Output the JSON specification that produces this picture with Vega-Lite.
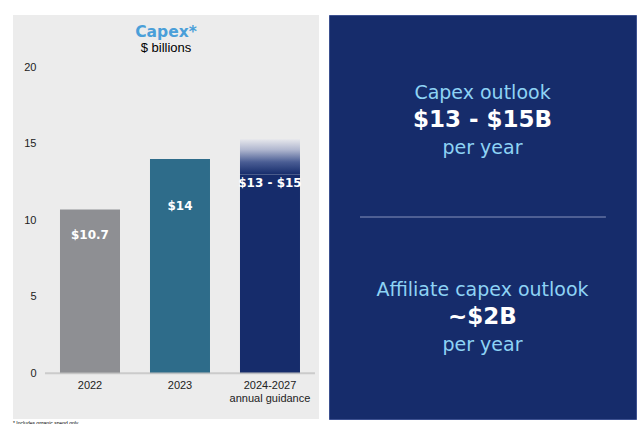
{
  "$schema": "https://vega.github.io/schema/vega-lite/v6.json",
  "background": "white",
  "padding": {"left": 13, "top": 14, "right": 0, "bottom": 0},
  "spacing": 9,
  "title": {"text": "* Includes organic spend only", "orient": "bottom", "anchor": "start", "frame": "group", "fontSize": 5, "font": "Liberation Sans", "fontWeight": "normal", "color": "#000000", "offset": 1},
  "config": {"view": {"stroke": null}},
  "hconcat": [
    {
      "width": 306,
      "height": 404,
      "view": {"fill": "#ececec", "stroke": null},
      "title": {"text": "Capex*", "subtitle": "$ billions", "anchor": "middle", "frame": "group", "offset": -40, "font": "DejaVu Sans", "fontSize": 15.5, "fontWeight": "bold", "color": "#4a9fd9", "subtitleFont": "Liberation Sans", "subtitleFontSize": 13, "subtitleColor": "#000000", "subtitlePadding": 2},
      "data": {"values": [
        {"period": "2022", "value": 10.7, "label": "$10.7"},
        {"period": "2023", "value": 14, "label": "$14"},
        {"period": "2024-2027", "value": 13, "high": 15.3, "label": "$13 - $15"}
      ]},
      "encoding": {
        "x": {"field": "period", "type": "nominal", "sort": ["2022", "2023", "2024-2027"],
          "scale": {"paddingInner": 0.3333, "paddingOuter": 0.3667, "align": 0.712},
          "axis": {"title": null, "orient": "bottom", "offset": -46, "domain": false, "ticks": false, "tickSize": 0, "labelPadding": 6, "labelAngle": 0, "labelFont": "Liberation Sans", "labelFontSize": 11, "labelColor": "#222222", "labelLineHeight": 13,
            "labelExpr": "datum.value == '2024-2027' ? ['2024-2027', 'annual guidance'] : datum.value"}}
      },
      "layer": [
        {
          "mark": {"type": "bar"},
          "encoding": {
            "y": {"field": "value", "type": "quantitative",
              "scale": {"domain": [-2.99, 23.42], "nice": false, "zero": false},
              "axis": {"title": null, "values": [0, 5, 10, 15, 20], "domain": false, "ticks": false, "tickSize": 0, "grid": false, "offset": -32, "labelPadding": 9, "labelFont": "Liberation Sans", "labelFontSize": 11, "labelColor": "#222222"}},
            "y2": {"datum": 0},
            "color": {"field": "period", "type": "nominal", "scale": {"domain": ["2022", "2023", "2024-2027"], "range": ["#8e8f93", "#2e6c8a", "#162c6b"]}, "legend": null}
          }
        },
        {
          "transform": [{"filter": "isValid(datum.high)"}],
          "mark": {"type": "bar", "fill": {"gradient": "linear", "x1": 0, "y1": 0, "x2": 0, "y2": 1, "stops": [
            {"offset": 0, "color": "#e6e7ec"},
            {"offset": 0.3, "color": "#b0b7cf"},
            {"offset": 0.65, "color": "#4a5d94"},
            {"offset": 1, "color": "#162c6b"}
          ]}},
          "encoding": {
            "y": {"field": "high", "type": "quantitative", "title": null},
            "y2": {"field": "value"}
          }
        },
        {
          "mark": {"type": "tick", "size": 90, "thickness": 2, "color": "#bdbdbd"},
          "encoding": {"y": {"datum": 0}}
        },
        {
          "transform": [{"filter": "datum.period == '2022'"}],
          "mark": {"type": "text", "font": "DejaVu Sans", "fontWeight": "bold", "fontSize": 12, "color": "white", "baseline": "middle", "dy": 25.5},
          "encoding": {"y": {"field": "value", "type": "quantitative", "title": null}, "text": {"field": "label"}}
        },
        {
          "transform": [{"filter": "datum.period == '2023'"}],
          "mark": {"type": "text", "font": "DejaVu Sans", "fontWeight": "bold", "fontSize": 12, "color": "white", "baseline": "middle", "dy": 47},
          "encoding": {"y": {"field": "value", "type": "quantitative", "title": null}, "text": {"field": "label"}}
        },
        {
          "transform": [{"filter": "datum.period == '2024-2027'"}],
          "mark": {"type": "text", "font": "DejaVu Sans", "fontWeight": "bold", "fontSize": 12, "color": "white", "baseline": "middle", "dy": 9},
          "encoding": {"y": {"field": "value", "type": "quantitative", "title": null}, "text": {"field": "label"}}
        }
      ]
    },
    {
      "width": 307,
      "height": 404,
      "view": {"fill": "#162c6b", "stroke": "#3d5190", "strokeWidth": 1},
      "data": {"values": [
        {"group": "capex", "part": "label", "text": "Capex outlook"},
        {"group": "capex", "part": "value", "text": "$13 - $15B"},
        {"group": "capex", "part": "unit", "text": "per year"},
        {"group": "affiliate", "part": "label", "text": "Affiliate capex outlook"},
        {"group": "affiliate", "part": "value", "text": "~$2B"},
        {"group": "affiliate", "part": "unit", "text": "per year"}
      ]},
      "layer": [
        {
          "transform": [{"filter": "datum.group == 'capex' && datum.part == 'label'"}],
          "mark": {"type": "rule", "color": "#8793bd", "strokeWidth": 1},
          "encoding": {
            "x": {"datum": 0.101, "type": "quantitative", "scale": {"domain": [0, 1], "nice": false, "zero": false}, "axis": null},
            "x2": {"datum": 0.902},
            "y": {"datum": "affiliate", "type": "nominal", "bandPosition": 0, "scale": {"domain": ["capex", "affiliate"], "paddingInner": 0, "paddingOuter": 0.0254}, "axis": null}
          }
        },
        {
          "transform": [{"filter": "datum.part != 'value'"}],
          "mark": {"type": "text", "font": "DejaVu Sans", "fontSize": 19, "color": "#8ed3f5", "baseline": "alphabetic"},
          "encoding": {
            "y": {"field": "group", "type": "nominal", "axis": null},
            "yOffset": {"field": "part", "type": "nominal", "scale": {"type": "point", "domain": ["label", "value", "unit"], "range": [79, 134], "padding": 0}},
            "text": {"field": "text"}
          }
        },
        {
          "transform": [{"filter": "datum.part == 'value'"}],
          "mark": {"type": "text", "font": "DejaVu Sans", "fontWeight": "bold", "fontSize": 23, "color": "white", "baseline": "alphabetic"},
          "encoding": {
            "y": {"field": "group", "type": "nominal", "axis": null},
            "yOffset": {"field": "part", "type": "nominal"},
            "text": {"field": "text"}
          }
        }
      ]
    }
  ]
}
